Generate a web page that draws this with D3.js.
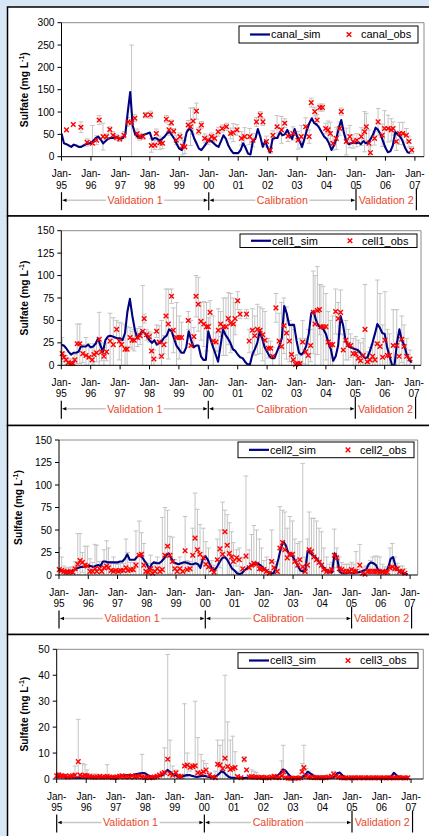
<!DOCTYPE html>
<html><head><meta charset="utf-8">
<script src="https://cdn.jsdelivr.net/npm/d3@7"></script>
<style>html,body{margin:0;padding:0;background:#d8e7f6;overflow:hidden}svg{display:block}</style>
</head><body><svg id="c" width="429" height="836"></svg>
<script>
// ---------------- DATA ----------------
const yearLabels = ["95","96","97","98","99","00","01","02","03","04","05","06","07"];
const periodNames = ["Validation 1","Calibration","Validation 2"];
const periodBounds = [0, 5, 10, 12.05]; // years after Jan-95

const canalTicks = [0,50,100,150,200,250,300];
const cell1Ticks = [0,25,50,75,100,125,150];
const cell2Ticks = [0,25,50,75,100,125,150];
const cell3Ticks = [0,10,20,30,40,50];

// simulated, monthly from Jan-95
const canalSim = [52,30,28,25,22,27,25,22,22,25,28,30, 30,36,42,45,38,30,35,40,42,42,44,42,
 40,42,50,100,145,70,50,45,42,48,50,52, 54,38,42,40,36,40,45,52,56,48,40,28,
 18,15,30,55,63,58,42,30,18,15,22,30, 38,35,30,25,22,35,48,40,25,15,8,8,
 8,15,30,20,7,5,35,40,62,45,22,35, 20,10,40,42,42,55,48,50,60,48,40,62,
 45,35,22,40,60,75,86,75,72,65,55,45, 40,30,15,25,40,65,82,55,35,28,30,32,
 30,32,28,35,30,32,40,50,65,60,50,35, 20,10,12,25,55,50,45,35,20,10,8];
const cell1Sim = [23,22,19,15,12,14,14,15,21,21,21,23, 20,21,24,30,22,15,28,32,33,32,31,30,
 30,28,36,60,74,55,40,30,34,38,36,32, 28,25,28,23,25,27,31,33,40,38,30,22,
 18,14,14,20,38,28,20,22,22,10,6,6, 38,28,20,12,4,22,40,34,30,25,18,16,
 12,9,8,4,1,1,12,18,25,38,30,20, 15,10,8,8,15,22,30,66,58,45,45,45,
 28,14,12,15,22,35,58,60,50,44,42,40, 35,25,18,5,10,22,55,45,28,22,20,19,
 18,17,14,11,8,9,16,25,35,46,42,36, 35,20,10,0,0,25,40,28,22,12,6,3];
const cell2Sim = [6,5,4,4,4,4,5,7,8,9,9,10, 10,10,9,10,11,10,15,15,14,14,14,14,
 14,15,15,18,23,17,17,17,20,22,20,16, 12,7,12,14,13,13,15,18,22,24,19,14,
 13,12,13,14,14,13,12,12,13,12,8,18, 21,17,11,6,6,10,15,19,20,17,12,7,
 5,2,1,2,5,7,9,11,12,13,12,10, 7,5,3,2,2,8,18,30,37,33,25,22,
 20,15,10,5,4,5,27,25,22,20,17,13, 10,7,4,3,3,24,20,4,2,2,2,3,
 2,2,3,3,4,5,6,12,14,13,11,5, 4,4,4,8,18,20,10,6,3,2,1,1];
const cell3Sim = [1,1,1,0.8,0.7,0.7,0.6,0.5,0.5,0.5,0.5,0.5, 0.5,0.6,0.6,0.7,0.7,0.8,0.8,0.8,0.8,0.8,0.8,0.8,
 0.8,0.8,1,1.2,1.5,1.5,1.5,1.5,1.8,2,2.2,2.3, 2.2,1.5,1,0.8,0.8,1,1.2,1.5,2.5,3.5,2.8,2,
 1.5,1.2,0.8,1,1.3,1.5,1.5,1.2,1,0.8,1,1.2, 1.2,1,0.8,0.7,0.8,1.2,2,3,2.5,1.5,0.8,0.5,
 0.5,0.4,0.4,0.4,0.4,0.5,0.6,0.6,0.6,0.6,0.5,0.5, 0.5,0.5,0.5,0.5,0.5,0.8,1.5,2.5,3.7,3.2,2,1,
 0.5,0.5,0.5,0.5,0.8,1.5,2.8,2.2,1.5,1,0.8,0.6, 0.5,0.5,0.5,0.5,0.5,1,2.2,2.5,1.5,0.8,0.5,0.4,
 0.4,0.4,0.4,0.4,0.4,0.4,0.4,0.4,0.4,0.4,0.5,0.5, 0.5,0.5,0.6,0.8,1,2.4,1.5,0.8,0.5,0.4,0.3,0.3];

// observed: time (years after Jan-95), value, error (+/-)
const canalObsT = [0.17,0.40,0.66,0.87,1.05,1.19,1.28,1.41,1.53,1.64,1.75,1.87,1.98,2.12,2.26,2.38,2.49,2.57,2.66,2.77,2.85,3.02,3.05,3.17,3.22,3.34,3.43,3.56,3.65,3.73,3.81,3.90,4.02,4.11,4.19,4.30,4.38,4.47,4.58,4.66,4.75,4.86,4.98,5.09,5.20,5.32,5.46,5.60,5.74,5.83,5.96,6.11,6.22,6.39,6.50,6.62,6.75,6.84,6.96,7.09,7.18,7.32,7.47,7.58,7.69,7.86,8.03,8.14,8.29,8.41,8.48,8.60,8.68,8.77,8.86,8.97,9.05,9.13,9.22,9.33,9.45,9.50,9.67,9.79,9.90,10.03,10.18,10.29,10.35,10.44,10.49,10.63,10.75,10.89,10.97,11.09,11.20,11.26,11.37,11.48,11.59,11.71,11.80,11.89];
const canalObsV = [60,72,66,32,30,37,82,45,45,61,48,43,40,48,78,76,86,52,45,45,93,94,25,26,52,31,30,84,60,76,57,37,45,24,22,71,67,80,102,57,71,41,37,45,41,56,63,67,52,54,60,41,45,45,37,78,93,78,34,15,48,67,60,75,46,52,37,45,67,45,121,101,82,110,110,63,60,52,30,41,63,101,34,45,34,37,45,56,67,30,9,41,78,48,63,63,60,63,34,52,52,48,34,15];
const canalObsE = [0,0,12,8,40,10,10,30,6,6,8,6,6,8,10,174,8,10,8,6,6,8,15,10,10,15,12,8,12,6,6,10,8,20,15,10,42,30,18,8,8,10,10,8,8,10,8,8,12,20,12,15,20,18,15,10,8,8,12,8,10,25,30,10,12,15,20,25,20,15,10,10,12,8,8,12,20,25,15,25,15,8,30,25,15,15,20,45,30,30,15,15,30,25,40,30,25,15,20,25,25,15,12,8];

const cell1ObsT = [0.03,0.09,0.16,0.24,0.32,0.39,0.46,0.54,0.63,0.73,0.84,0.94,1.05,1.11,1.20,1.29,1.37,1.45,1.54,1.66,1.77,1.88,1.97,2.05,2.17,2.24,2.34,2.41,2.48,2.59,2.68,2.77,2.82,2.90,2.99,3.07,3.15,3.24,3.33,3.41,3.49,3.56,3.64,3.75,3.81,3.92,4.01,4.09,4.32,4.41,4.51,4.58,4.66,4.75,4.85,4.94,5.00,5.06,5.17,5.26,5.34,5.42,5.51,5.60,5.68,5.76,5.85,5.91,6.00,6.08,6.30,6.39,6.50,6.58,6.67,6.76,6.85,6.93,7.04,7.12,7.19,7.30,7.41,7.49,7.57,7.66,7.76,7.83,7.89,7.97,8.04,8.12,8.21,8.31,8.40,8.48,8.57,8.63,8.71,8.78,8.83,8.91,9.00,9.08,9.16,9.23,9.33,9.42,9.50,9.59,9.68,9.76,9.84,9.93,10.02,10.10,10.18,10.27,10.33,10.41,10.50,10.59,10.67,10.75,10.84,10.93,11.01,11.09,11.16,11.29,11.41,11.49,11.58,11.66,11.75,11.86];
const cell1ObsV = [13,9,6,3,2,2,6,24,24,13,11,9,6,12,14,29,15,10,15,27,23,40,27,23,18,18,31,28,28,31,33,38,52,34,32,16,7,38,26,10,23,55,46,77,39,31,31,31,50,22,32,77,68,49,46,43,43,59,27,26,39,46,43,43,52,47,46,52,72,57,57,27,39,33,40,39,34,28,19,19,10,64,27,21,44,36,27,12,6,1,2,2,26,15,11,22,59,46,61,62,43,43,43,26,23,23,60,52,59,17,28,23,22,13,13,8,5,11,40,4,6,10,6,24,21,9,28,11,11,22,22,10,29,21,10,7];
const cell1ObsE = [18,5,5,5,5,5,6,22,22,10,20,15,15,12,10,30,10,10,10,31,30,10,21,24,27,25,11,10,12,10,10,51,5,6,6,20,10,7,18,40,10,30,39,8,25,39,24,17,10,28,10,23,30,21,25,27,10,13,28,10,24,14,32,32,29,33,29,18,10,5,5,13,24,22,28,26,29,32,11,8,10,16,31,49,31,29,23,31,34,10,10,28,24,15,29,18,46,54,49,28,47,45,37,34,27,32,25,18,25,18,22,17,13,17,19,20,20,19,50,11,14,13,20,71,59,36,54,29,24,40,40,20,26,24,20,10];

const cell2ObsT = [0.01,0.09,0.17,0.24,0.32,0.40,0.47,0.55,0.64,0.72,0.80,0.89,0.97,1.06,1.15,1.23,1.29,1.38,1.46,1.54,1.63,1.69,1.78,1.86,1.94,2.03,2.11,2.20,2.29,2.35,2.45,2.54,2.63,2.74,2.82,2.90,2.97,3.05,3.13,3.20,3.28,3.36,3.45,3.53,3.62,3.71,3.79,3.88,3.96,4.04,4.13,4.23,4.31,4.38,4.48,4.57,4.65,4.73,4.82,4.93,5.02,5.11,5.22,5.30,5.41,5.50,5.59,5.67,5.75,5.82,5.90,5.96,6.07,6.16,6.28,6.39,6.50,6.58,6.66,6.75,6.85,6.92,7.00,7.09,7.19,7.27,7.35,7.46,7.55,7.64,7.72,7.80,7.89,7.98,8.06,8.16,8.23,8.33,8.41,8.49,8.55,8.63,8.71,8.80,8.89,8.97,9.05,9.15,9.24,9.32,9.41,9.49,9.58,9.66,9.74,9.83,9.92,10.00,10.08,10.15,10.28,10.38,10.46,10.55,10.63,10.72,10.80,10.88,10.97,11.06,11.14,11.22,11.31,11.39,11.48,11.56,11.65,11.74,11.82];
const cell2ObsV = [6,5,4,3,3,4,3,7,12,16,14,11,10,4,4,7,4,7,4,8,10,8,5,4,5,4,5,5,8,5,6,6,11,22,23,11,4,3,7,2,4,7,4,6,22,32,22,15,7,4,7,4,27,6,7,22,41,28,23,19,12,9,6,3,17,29,23,48,33,24,20,15,19,17,7,21,8,11,13,12,7,7,6,4,2,15,8,4,30,36,28,19,23,23,15,11,17,9,4,11,28,26,20,17,14,11,6,4,4,6,22,19,7,6,4,4,4,6,4,4,11,2,1,4,4,4,4,4,3,4,3,3,8,9,7,7,4,4,2];
const cell2ObsE = [24,15,6,5,5,5,5,8,34,30,11,21,22,14,10,27,29,8,8,20,28,22,10,16,8,8,8,8,32,20,8,8,38,38,24,24,10,10,15,8,11,13,10,58,53,40,21,27,10,8,13,8,38,10,8,30,50,45,33,33,25,21,10,8,23,21,58,24,34,34,28,21,9,13,13,89,20,34,42,38,33,23,10,16,15,35,7,8,46,36,42,33,42,37,25,24,20,115,16,29,42,37,43,43,38,37,24,16,8,8,29,11,13,8,8,8,8,8,8,22,23,6,9,6,12,16,17,17,17,8,6,6,22,26,13,6,6,6,5];

const cell3ObsT = [0.00,0.07,0.15,0.22,0.30,0.38,0.46,0.54,0.62,0.73,0.79,0.88,0.96,1.03,1.12,1.20,1.29,1.37,1.46,1.55,1.63,1.71,1.80,1.88,1.97,2.04,2.13,2.21,2.30,2.38,2.47,2.55,2.64,2.72,2.81,2.89,2.98,3.06,3.15,3.24,3.31,3.40,3.48,3.57,3.65,3.76,3.84,3.93,4.04,4.13,4.21,4.33,4.42,4.52,4.61,4.69,4.78,4.89,4.97,5.06,5.17,5.28,5.37,5.45,5.53,5.62,5.70,5.79,5.88,5.96,6.04,6.12,6.24,6.35,6.43,6.52,6.60,6.69,6.76,6.85,6.94,7.02,7.11,7.19,7.28,7.36,7.45,7.53,7.62,7.67,7.75,7.84,7.92,8.01,8.09,8.18,8.26,8.31,8.37,8.45,8.54,8.62,8.71,8.79,8.88,8.97,9.04,9.12,9.21,9.30,9.38,9.46,9.55,9.64,9.72,9.80,9.89,9.98,10.06,10.13,10.22,10.30,10.39,10.47,10.56,10.64,10.73,10.81,10.90,10.98,11.07,11.15,11.24,11.31,11.40,11.48,11.57,11.65,11.74,11.82,11.89];
const cell3ObsV = [1.2,1.5,1.2,1.0,1.2,0.8,1.0,1.2,1.5,6.7,1.5,1.0,1.4,1.2,1.0,0.8,0.7,0.8,1.0,0.7,0.8,1.0,0.8,0.6,0.6,0.8,1.0,1.2,0.8,1.0,0.8,1.2,0.8,1.0,1.2,0.8,0.6,0.8,0.5,0.6,0.8,1.0,1.5,2.0,2.5,7.6,2.0,1.5,2.4,1.0,1.0,5.0,5.4,4.5,4.8,5.1,2.4,2.2,2.8,3.5,1.5,0.8,0.5,5.7,5.4,4.0,8.0,4.8,3.7,4.1,4.4,0.9,0.5,7.6,3.5,0.8,0.9,0.7,0.8,0.6,0.7,0.5,0.6,0.4,0.8,1.0,0.6,0.5,1.2,2.8,0.5,0.3,0.3,0.3,0.4,0.3,0.5,2.8,4.4,1.0,0.8,0.6,0.5,0.6,0.5,0.5,0.6,0.5,0.8,1.0,1.9,1.0,0.8,0.5,0.4,0.5,0.4,0.5,0.5,0.4,0.5,0.5,0.4,0.5,0.5,0.4,0.5,0.5,0.4,0.5,0.5,0.4,0.5,0.5,0.4,0.5,0.6,0.4,0.5,0.4,0.5];
const cell3ObsE = [1,1,0.5,0.5,0.5,0.5,0.5,0.5,3.5,16.3,0.5,5,4.1,2.3,0.5,0.5,1.3,0.5,0.5,0.5,0.5,4.5,0.5,0.5,0.9,0.5,0.5,0.5,0.5,0.5,0.5,0.5,0.5,0.5,0.5,8.7,0.5,0.5,0.5,0.5,0.5,0.5,0.5,1,9.5,40.4,13,3.5,1,0.5,0.5,24,4.6,1.5,1,24.9,13.6,7.3,4.2,2.5,1,0.5,2.5,9.3,7.6,11,32,17.2,11.3,12.4,6.1,0.5,0.5,1,0.5,0.5,2.6,2.3,1.7,0.5,0.5,0.5,0.5,0.5,0.5,0.5,0.5,0.5,5.8,10.2,2.5,0.5,0.5,0.5,0.5,0.5,0.5,3.2,8.6,3,2.2,1.5,1,0.8,0.5,0.5,0.5,0.5,0.5,0.5,1.1,1.5,0.5,0.5,0.5,0.5,0.5,0.5,0.5,0.5,0.5,0.5,0.5,0.5,0.5,0.5,0.5,0.5,0.5,0.5,0.5,0.5,0.5,0.5,0.5,0.5,0.5,0.5,0.5,0.5,0.5];

// ---------------- LAYOUT ----------------
const panels = [
 {name:"canal", sim:canalSim, t:canalObsT, v:canalObsV, e:canalObsE, ticks:canalTicks,
  box:[7,216], x0:61.5, py:29.45, yTop:22.7, yZero:156.7, xRight:424, leg:[239,26,179,17], titleX:24},
 {name:"cell1", sim:cell1Sim, t:cell1ObsT, v:cell1ObsV, e:cell1ObsE, ticks:cell1Ticks,
  box:[216,425.5], x0:61.3, py:29.4, yTop:230.7, yZero:365.3, xRight:421, leg:[240,234,177,13.5], titleX:24},
 {name:"cell2", sim:cell2Sim, t:cell2ObsT, v:cell2ObsV, e:cell2ObsE, ticks:cell2Ticks,
  box:[425.5,634.5], x0:59, py:29.26, yTop:440, yZero:575, xRight:417.7, leg:[238,442,176,15.7], titleX:18.5},
 {name:"cell3", sim:cell3Sim, t:cell3ObsT, v:cell3ObsV, e:cell3ObsE, ticks:cell3Ticks,
  box:[634.5,845], x0:56.7, py:29.53, yTop:649.3, yZero:779, xRight:423.3, leg:[238,652.7,180,15.6], titleX:24}
];

const FONT = "'Liberation Sans', Arial, sans-serif";
const svg = d3.select("#c");
svg.append("rect").attr("width",429).attr("height",836).attr("fill","#d8e7f6");

panels.forEach((p,pi)=>{
  const g = svg.append("g");
  g.append("rect").attr("x",7.5).attr("y",p.box[0]).attr("width",440).attr("height",p.box[1]-p.box[0])
    .attr("fill","#fff").attr("stroke","#000").attr("stroke-width",1.5);

  const yMax = p.ticks[p.ticks.length-1];
  const X = d3.scaleLinear().domain([0,12]).range([p.x0, p.x0+12*p.py]);
  const Y = d3.scaleLinear().domain([0,yMax]).range([p.yZero,p.yTop]);

  const cid = "clip"+pi;
  g.append("clipPath").attr("id",cid).append("rect")
    .attr("x",p.x0).attr("y",p.yTop).attr("width",p.xRight-p.x0).attr("height",p.yZero-p.yTop);

  g.append("path").attr("d",`M${p.x0},${p.yTop}H${p.xRight}V${p.yZero}`)
    .attr("fill","none").attr("stroke","#8c8c8c").attr("stroke-width",1);

  const plot = g.append("g").attr("clip-path",`url(#${cid})`);
  const obs = p.t.map((t,i)=>({t, v:p.v[i], e:p.e[i]}));

  const eb = plot.append("g").attr("stroke","#c4c4c4").attr("stroke-width",1).attr("fill","none");
  obs.filter(d=>d.e>0).forEach(d=>{
    const x = X(d.t), y1 = Y(d.v+d.e), y0 = Y(d.v-d.e);
    eb.append("path").attr("d",`M${x},${y0}V${y1}M${x-2.3},${y1}H${x+2.3}M${x-2.3},${y0}H${x+2.3}`);
  });

  const line = d3.line().x((d,i)=>X(i/12)).y(d=>Y(d));
  plot.append("path").datum(p.sim).attr("d",line).attr("fill","none")
    .attr("stroke","#000080").attr("stroke-width",2.1).attr("stroke-linejoin","round");

  const mk = g.append("g").attr("stroke","#ff0000").attr("stroke-width",1.4);
  obs.forEach(d=>{
    const x = X(d.t), y = Y(d.v), s=2.3;
    mk.append("path").attr("d",`M${x-s},${y-s}L${x+s},${y+s}M${x-s},${y+s}L${x+s},${y-s}`);
  });

  g.append("line").attr("x1",p.x0).attr("x2",p.x0).attr("y1",p.yTop).attr("y2",p.yZero).attr("stroke","#000");
  g.append("line").attr("x1",p.x0).attr("x2",p.xRight).attr("y1",p.yZero).attr("y2",p.yZero).attr("stroke","#000");
  p.ticks.forEach(tk=>{
    g.append("line").attr("x1",p.x0-4).attr("x2",p.x0).attr("y1",Y(tk)).attr("y2",Y(tk)).attr("stroke","#000");
    g.append("text").attr("x",p.x0-7).attr("y",Y(tk)).attr("dy","0.35em").attr("text-anchor","end")
      .attr("font-family",FONT).attr("font-size",10.2).attr("fill","#000").text(tk);
  });
  yearLabels.forEach((yl,i)=>{
    const x = X(i);
    g.append("line").attr("x1",x).attr("x2",x).attr("y1",p.yZero).attr("y2",p.yZero+4).attr("stroke","#000");
    g.append("text").attr("x",x).attr("y",p.yZero+17).attr("dy","0.35em").attr("text-anchor","middle")
      .attr("font-family",FONT).attr("font-size",10).text("Jan-");
    g.append("text").attr("x",x).attr("y",p.yZero+28.6).attr("dy","0.35em").attr("text-anchor","middle")
      .attr("font-family",FONT).attr("font-size",10).text(yl);
  });

  const cy = (p.yTop+p.yZero)/2;
  const tt = g.append("text").attr("transform",`translate(${p.titleX+3.5},${cy}) rotate(-90)`)
    .attr("text-anchor","middle").attr("font-family",FONT).attr("font-weight","bold").attr("font-size",10.3);
  tt.append("tspan").text("Sulfate (mg L");
  tt.append("tspan").attr("dy",-4).attr("font-size",7).text("-1");
  tt.append("tspan").attr("dy",4).text(")");

  const [lx,ly,lw,lh] = p.leg;
  g.append("rect").attr("x",lx).attr("y",ly).attr("width",lw).attr("height",lh)
    .attr("fill","#fff").attr("stroke","#000").attr("stroke-width",1);
  const lc = ly+lh/2;
  g.append("line").attr("x1",lx+11).attr("x2",lx+31).attr("y1",lc).attr("y2",lc).attr("stroke","#000080").attr("stroke-width",2.2);
  g.append("text").attr("x",lx+32).attr("y",lc).attr("dy","0.36em").attr("font-family",FONT).attr("font-size",11).text(p.name+"_sim");
  const mx = lx+110;
  g.append("path").attr("d",`M${mx-2.3},${lc-2.3}L${mx+2.3},${lc+2.3}M${mx-2.3},${lc+2.3}L${mx+2.3},${lc-2.3}`)
    .attr("stroke","#ff0000").attr("stroke-width",1.4);
  g.append("text").attr("x",lx+122).attr("y",lc).attr("dy","0.36em").attr("font-family",FONT).attr("font-size",11).text(p.name+"_obs");

  const by = p.yZero+43.5;
  periodBounds.forEach((b,i)=>{
    const x = X(b);
    const top = (i===2||i===3) ? by-12 : by-8;
    g.append("line").attr("x1",x).attr("x2",x).attr("y1",top).attr("y2",by+10).attr("stroke","#000").attr("stroke-width",1.2);
  });
  periodNames.forEach((nm,i)=>{
    const xa = X(periodBounds[i])+1, xb = X(periodBounds[i+1])-1;
    if(i<2){
      g.append("line").attr("x1",xa).attr("x2",xb).attr("y1",by).attr("y2",by).attr("stroke","#c8c8c8").attr("stroke-width",1.6);
      g.append("path").attr("d",`M${xa},${by}l4,-1.8v3.6z`).attr("fill","#000");
      g.append("path").attr("d",`M${xb},${by}l-4,-1.8v3.6z`).attr("fill","#000");
    }
    const tx = (xa+xb)/2;
    const txt = g.append("text").attr("x",tx).attr("y",by).attr("dy","0.36em").attr("text-anchor","middle")
      .attr("font-family",FONT).attr("font-size",10.7).attr("fill","#e8482b").text(nm);
    const w = txt.node().getComputedTextLength();
    g.insert("rect", function(){return txt.node();}).attr("x",tx-w/2-1.5).attr("y",by-6).attr("width",w+3).attr("height",12).attr("fill","#fff");
  });
});
</script></body></html>
